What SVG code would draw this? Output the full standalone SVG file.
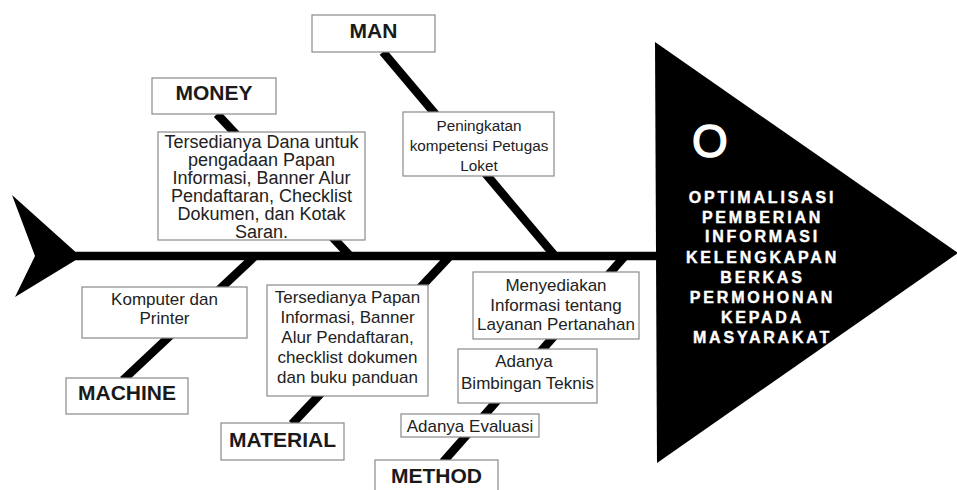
<svg xmlns="http://www.w3.org/2000/svg" width="957" height="490" viewBox="0 0 957 490">
<style>
.box{fill:#fff;stroke:#8a8a8a;stroke-width:1.2}
.lbl{font-family:"Liberation Sans",Arial,sans-serif;font-weight:bold;font-size:21px;fill:#1a1a1a;text-anchor:middle}
.txt{font-family:"Liberation Sans",Arial,sans-serif;font-size:17px;fill:#222;text-anchor:middle}
.t18{font-size:18px}
.t15{font-size:15.3px}
.bone{stroke:#000;stroke-width:8.5;fill:none;stroke-linecap:butt}
.eff{font-family:"Liberation Sans",Arial,sans-serif;font-weight:bold;font-size:16px;fill:#fff;stroke:#fff;stroke-width:0.4;text-anchor:middle;letter-spacing:2.8px}
.ring{font-family:"Liberation Sans",Arial,sans-serif;font-size:46px;fill:#fff;stroke:#fff;stroke-width:1.4;text-anchor:middle}
</style>
<rect width="957" height="490" fill="#fff"/>
<g id="connectors">
  <polygon id="tail" points="12,195 75,251.5 75,260.5 15,297 35,256" fill="#000"/>
  <line class="bone" x1="72" y1="256" x2="660" y2="256"/>
  <line class="bone" x1="383" y1="52" x2="555" y2="256"/>
  <line class="bone" x1="217" y1="114" x2="350" y2="256"/>
  <line class="bone" x1="255" y1="256" x2="123" y2="380"/>
  <line class="bone" x1="450" y1="256" x2="292" y2="424"/>
  <line class="bone" x1="625" y1="256" x2="443" y2="462"/>
</g>
<g id="head">
  <polygon points="655,42 958,253 657,463" fill="#000"/>
  <text class="ring" x="710" y="156.5">O</text>
  <text class="eff" x="762.5" y="203">OPTIMALISASI</text>
  <text class="eff" x="762.5" y="223">PEMBERIAN</text>
  <text class="eff" x="762.5" y="242">INFORMASI</text>
  <text class="eff" x="762.5" y="263">KELENGKAPAN</text>
  <text class="eff" x="762.5" y="283">BERKAS</text>
  <text class="eff" x="762.5" y="303">PERMOHONAN</text>
  <text class="eff" x="762.5" y="323">KEPADA</text>
  <text class="eff" x="762.5" y="343">MASYARAKAT</text>
</g>
<g id="man">
  <rect class="box" x="312" y="15" width="123" height="37"/>
  <text class="lbl" x="373.5" y="38">MAN</text>
</g>
<g id="man-cause">
  <rect class="box" x="403" y="112" width="151" height="64"/>
  <text class="txt t15" x="479" y="130.5">Peningkatan</text>
  <text class="txt t15" x="479" y="150.5">kompetensi Petugas</text>
  <text class="txt t15" x="479" y="170.5">Loket</text>
</g>
<g id="money">
  <rect class="box" x="152" y="78" width="124" height="36"/>
  <text class="lbl" x="214" y="100">MONEY</text>
</g>
<g id="money-cause">
  <rect class="box" x="158" y="132" width="207" height="108"/>
  <text class="txt t18" x="261.5" y="148">Tersedianya Dana untuk</text>
  <text class="txt t18" x="261.5" y="166">pengadaan Papan</text>
  <text class="txt t18" x="261.5" y="184">Informasi, Banner Alur</text>
  <text class="txt t18" x="261.5" y="202">Pendaftaran, Checklist</text>
  <text class="txt t18" x="261.5" y="220">Dokumen, dan Kotak</text>
  <text class="txt t18" x="261.5" y="238">Saran.</text>
</g>
<g id="machine-cause">
  <rect class="box" x="82" y="287" width="165" height="51"/>
  <text class="txt" x="164.5" y="305">Komputer dan</text>
  <text class="txt" x="164.5" y="324">Printer</text>
</g>
<g id="machine">
  <rect class="box" x="66" y="378" width="122" height="36"/>
  <text class="lbl" x="127" y="400">MACHINE</text>
</g>
<g id="material-cause">
  <rect class="box" x="267" y="285" width="161" height="111"/>
  <text class="txt" x="347.5" y="303">Tersedianya Papan</text>
  <text class="txt" x="347.5" y="323">Informasi, Banner</text>
  <text class="txt" x="347.5" y="343">Alur Pendaftaran,</text>
  <text class="txt" x="347.5" y="363">checklist dokumen</text>
  <text class="txt" x="347.5" y="383">dan buku panduan</text>
</g>
<g id="material">
  <rect class="box" x="221" y="423" width="123" height="37"/>
  <text class="lbl" x="282.5" y="447">MATERIAL</text>
</g>
<g id="method-cause-1">
  <rect class="box" x="473" y="272" width="166" height="67"/>
  <text class="txt" x="556" y="291">Menyediakan</text>
  <text class="txt" x="556" y="311">Informasi tentang</text>
  <text class="txt" x="556" y="330">Layanan Pertanahan</text>
</g>
<g id="method-cause-2">
  <rect class="box" x="458" y="349" width="139" height="54"/>
  <text class="txt" x="524" y="367">Adanya</text>
  <text class="txt" x="527.5" y="389">Bimbingan Teknis</text>
</g>
<g id="method-cause-3">
  <rect class="box" x="401" y="414" width="138" height="23"/>
  <text class="txt" x="470" y="432">Adanya Evaluasi</text>
</g>
<g id="method">
  <rect class="box" x="375" y="460" width="123" height="36"/>
  <text class="lbl" x="436.5" y="483">METHOD</text>
</g>
</svg>
